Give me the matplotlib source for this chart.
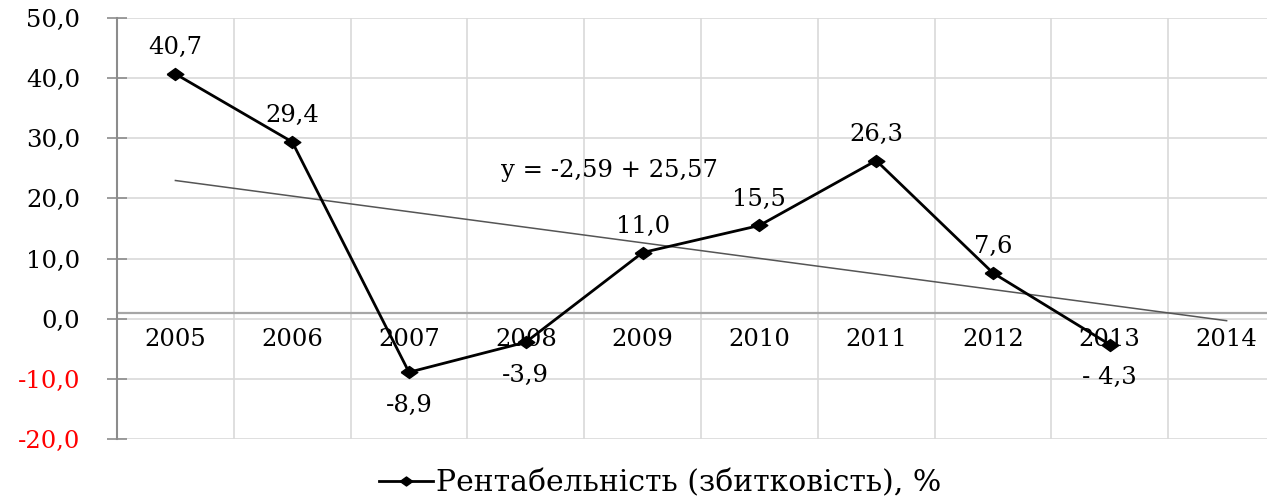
import matplotlib
matplotlib.use("Agg")
import matplotlib.pyplot as plt
from matplotlib.lines import Line2D

years = ["2005", "2006", "2007", "2008", "2009", "2010", "2011", "2012", "2013", "2014"]
values = [40.7, 29.4, -8.9, -3.9, 11.0, 15.5, 26.3, 7.6, -4.3]
labels = ["40,7", "29,4", "-8,9", "-3,9", "11,0", "15,5", "26,3", "7,6", "- 4,3"]
trend_slope = -2.59
trend_intercept = 25.57
yticks = [-20, -10, 0, 10, 20, 30, 40, 50]
ytick_labels = ["-20,0", "-10,0", "0,0", "10,0", "20,0", "30,0", "40,0", "50,0"]
legend_label = "Рентабельність (збитковість), %"
equation = "y = -2,59 + 25,57"

FONT = "DejaVu Serif"
FS = 17.5

fig = plt.figure(figsize=(12.67, 4.96), dpi=100)
ax = fig.add_axes([117/1267, 1-439/496, 1168/1267, 421/496])

n = len(years)
ax.set_xlim(-0.5, n - 0.5)
ax.set_ylim(-20, 50)

# gridlines
for yv in yticks:
    ax.axhline(yv, color="#d9d9d9", lw=1.2, zorder=0)
for k in range(1, n):
    ax.axvline(k - 0.5, color="#d9d9d9", lw=1.2, zorder=0)
# category axis line
ax.axhline(0.9, color="#a6a6a6", lw=1.6, zorder=1)

for s in ["top", "right", "bottom"]:
    ax.spines[s].set_visible(False)
ax.spines["left"].set_color("#8c8c8c")
ax.spines["left"].set_linewidth(1.5)

ax.set_yticks(yticks)
ax.set_yticklabels(ytick_labels, fontfamily=FONT, fontsize=FS)
for t, v in zip(ax.get_yticklabels(), yticks):
    t.set_color("#ff0000" if v < 0 else "black")
ax.tick_params(axis="y", direction="inout", length=15, width=1.2, color="#8c8c8c", pad=19)
ax.set_xticks([])

# x category labels just below the zero line
for i, yr in enumerate(years):
    ax.text(i, -3.4, yr, ha="center", va="center", fontfamily=FONT, fontsize=FS)

diamond = [(-1, 0), (0, 0.72), (1, 0), (0, -0.72), (-1, 0)]
xs = list(range(len(values)))
ax.plot(xs, values, color="black", lw=2, marker=diamond, markersize=12, zorder=4)

# trend line
tx = [0, n - 1]
ty = [trend_intercept + trend_slope * (x + 1) for x in tx]
ax.plot(tx, ty, color="#555555", lw=1.1, zorder=3)

ax.text(3.72, 24.7, equation, ha="center", va="center", fontfamily=FONT, fontsize=FS)

for x, v, lab in zip(xs, values, labels):
    off = 19 if v >= 0 else -24
    ax.annotate(lab, (x, v), xytext=(0, off), textcoords="offset points",
                ha="center", va="center", fontfamily=FONT, fontsize=FS)

handle = Line2D([], [], color="black", lw=2, marker=diamond, markersize=9)
fig.legend([handle], [legend_label], loc="center", bbox_to_anchor=(660/1267, 1-483/496),
           frameon=False, prop={"family": FONT, "size": 21.5}, handlelength=1.8,
           handletextpad=0.1)

fig.savefig("out.png", dpi=100)
